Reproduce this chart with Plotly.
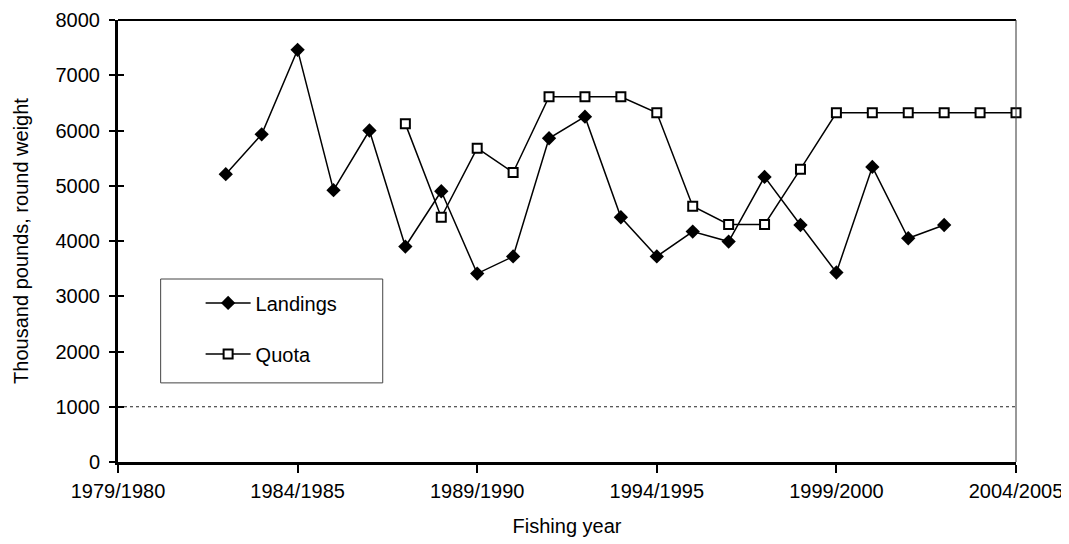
import plotly.graph_objects as go

# Data
land_years = [1982, 1983, 1984, 1985, 1986, 1987, 1988, 1989, 1990, 1991, 1992,
              1993, 1994, 1995, 1996, 1997, 1998, 1999, 2000, 2001, 2002]
landings = [5210, 5930, 7460, 4920, 6000, 3900, 4900, 3410, 3720, 5860, 6250,
            4430, 3720, 4170, 3990, 5160, 4290, 3430, 5340, 4050, 4290]

quota_years = [1987, 1988, 1989, 1990, 1991, 1992, 1993, 1994, 1995, 1996, 1997,
               1998, 1999, 2000, 2001, 2002, 2003, 2004]
quota = [6120, 4430, 5680, 5240, 6610, 6610, 6610, 6320, 4630, 4300, 4300,
         5300, 6320, 6320, 6320, 6320, 6320, 6320]

x_tickvals = [1979, 1984, 1989, 1994, 1999, 2004]
x_ticktext = ["1979/1980", "1984/1985", "1989/1990", "1994/1995", "1999/2000", "2004/2005"]
y_tickvals = [0, 1000, 2000, 3000, 4000, 5000, 6000, 7000, 8000]
ref_level = 1000

FONT = "Liberation Sans, Arial, sans-serif"
FS = 20

fig = go.Figure()
fig.add_trace(go.Scatter(
    x=land_years, y=landings, name="Landings", mode="lines+markers",
    line=dict(color="black", width=1.5),
    marker=dict(symbol="diamond", size=11, color="black"),
    legendgroup="a", cliponaxis=False))
fig.add_trace(go.Scatter(
    x=quota_years, y=quota, name="Quota", mode="lines+markers",
    line=dict(color="black", width=1.5),
    marker=dict(symbol="square", size=9, color="white", line=dict(color="black", width=2)),
    legendgroup="b", cliponaxis=False))

# inside part of y ticks
fig.add_trace(go.Scatter(x=[None], y=[None], yaxis="y2", showlegend=False))

# the page body has an 8px default margin, so the figure is 8px smaller
fig.update_layout(
    width=1061, height=536,
    margin=dict(l=110, r=53, t=12, b=82),
    plot_bgcolor="white", paper_bgcolor="white",
    font=dict(family=FONT, size=FS, color="black"),
    showlegend=True,
    legend=dict(x=0.092, y=0.404, xanchor="left", yanchor="top",
                bgcolor="rgba(0,0,0,0)", borderwidth=0,
                traceorder="grouped", tracegroupgap=22, itemwidth=45,
                font=dict(family=FONT, size=FS, color="black")),
    xaxis=dict(range=[1979, 2004], tickvals=x_tickvals, ticktext=x_ticktext,
               automargin=False,
               showgrid=False, zeroline=False, showline=True, linecolor="black",
               linewidth=3, ticks="outside", ticklen=8, tickwidth=2, tickcolor="black",
               ticklabelstandoff=1,
               title=dict(text="Fishing year", font=dict(size=FS), standoff=18)),
    yaxis=dict(range=[0, 8000], tickvals=y_tickvals, showgrid=False, zeroline=False,
               automargin=False,
               showline=True, linecolor="black", linewidth=3, ticks="outside",
               ticklen=6, tickwidth=2, tickcolor="black", ticklabelstandoff=5,
               title=dict(text="Thousand pounds, round weight", font=dict(size=FS), standoff=22)),
    yaxis2=dict(range=[0, 8000], overlaying="y", side="left", tickvals=y_tickvals,
                automargin=False,
                showticklabels=False, showgrid=False, zeroline=False, showline=False,
                ticks="inside", ticklen=6, tickwidth=2, tickcolor="black"),
    shapes=[
        dict(type="line", xref="paper", yref="y", x0=0, x1=1, y0=ref_level, y1=ref_level,
             line=dict(color="#222222", width=1, dash="3px,3px"), layer="below"),
        dict(type="line", xref="paper", yref="paper", x0=0, x1=1, y0=1, y1=1,
             line=dict(color="black", width=2)),
        dict(type="line", xref="paper", yref="paper", x0=1, x1=1, y0=0, y1=1,
             line=dict(color="#333333", width=1)),
        dict(type="rect", xref="paper", yref="paper", x0=0.0475, x1=0.2948, y0=0.179, y1=0.414,
             line=dict(color="#444444", width=1), fillcolor="white", layer="below"),
    ],
)

fig.write_html("out.html")
